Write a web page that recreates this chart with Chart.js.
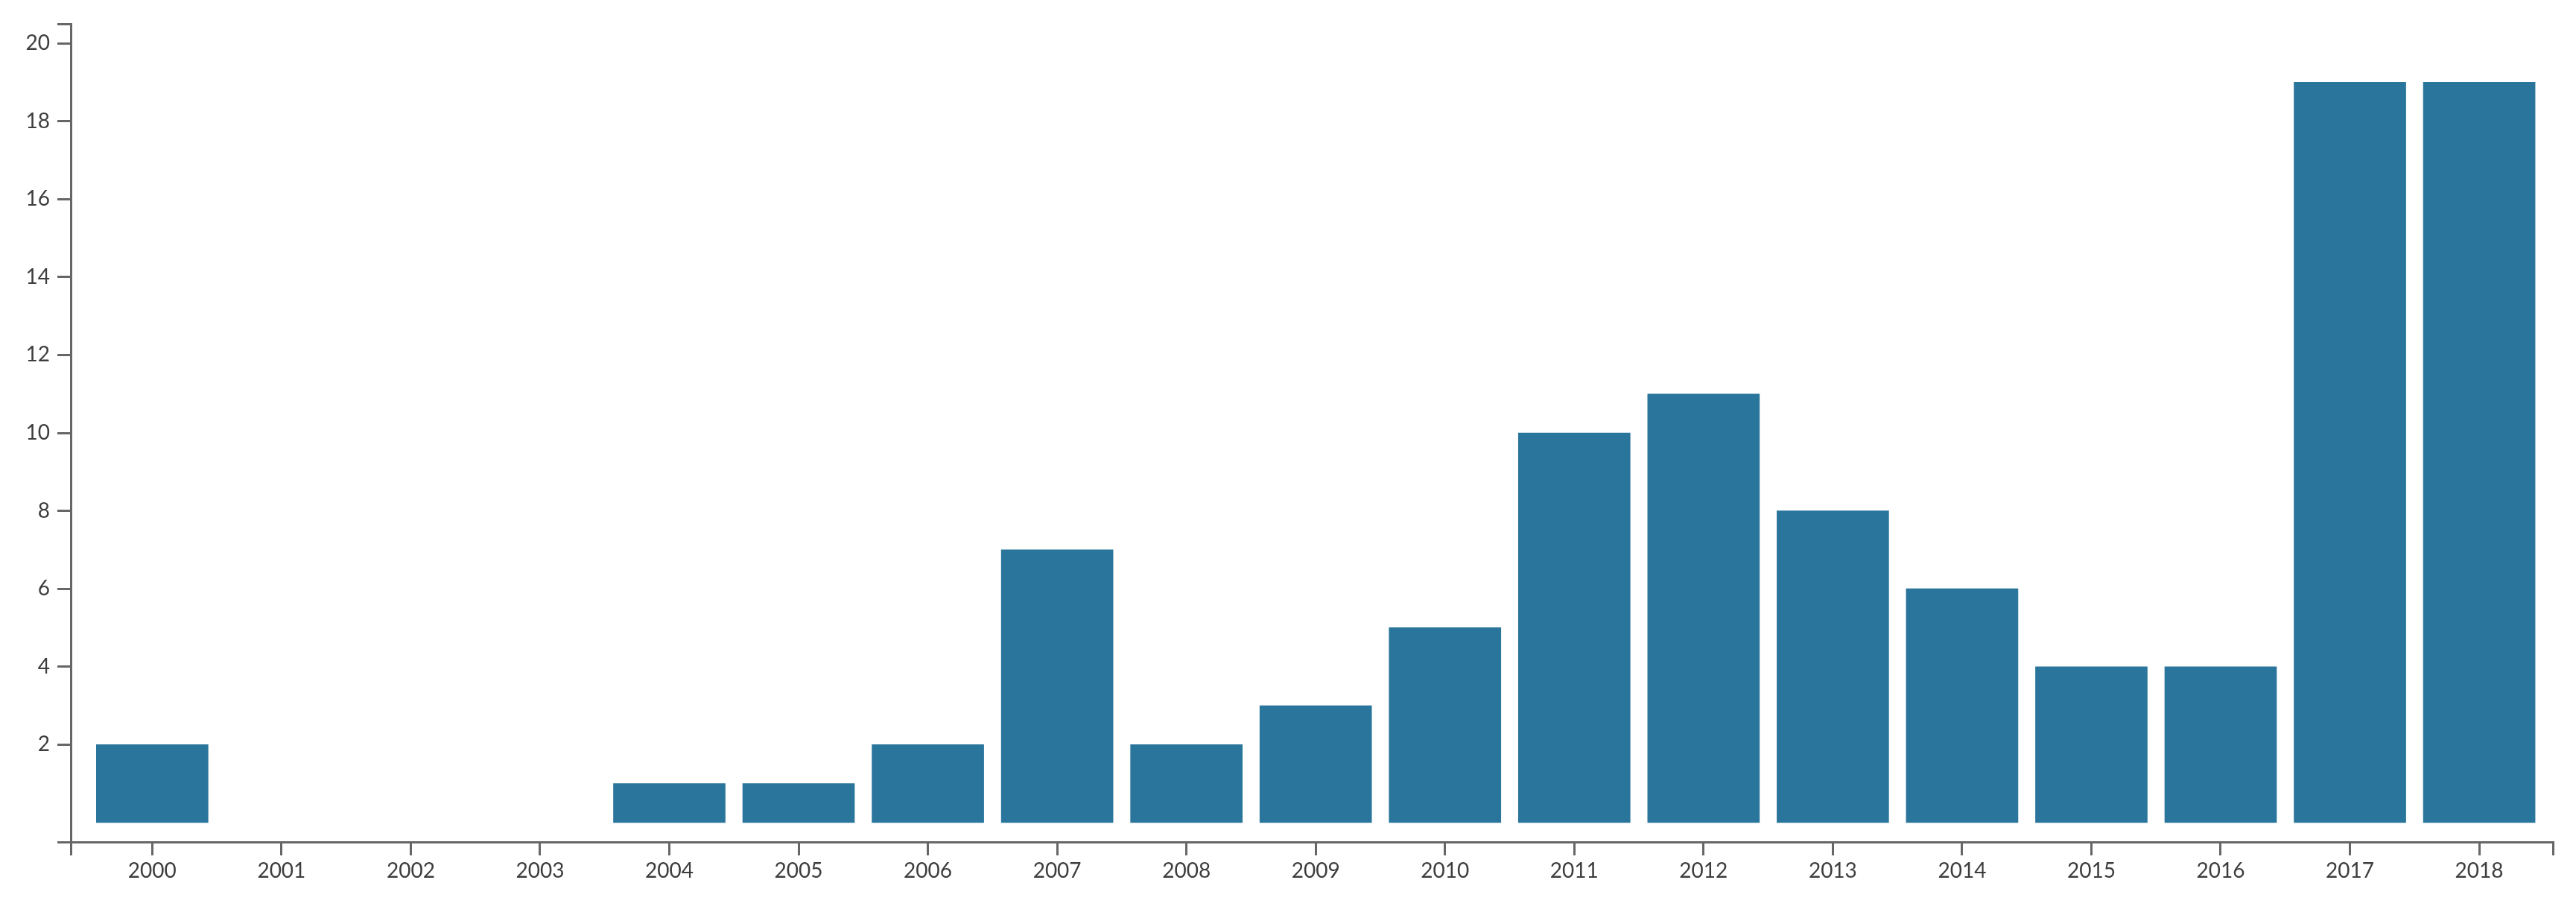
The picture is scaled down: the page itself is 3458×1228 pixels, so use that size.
<!DOCTYPE html>
<html>
  <head>
    <meta charset="UTF-8" />
    <script src="https://cdn.jsdelivr.net/npm/chart.js"></script>
    <style>
      body {
        margin: 0;
        background: #fff;
      }
    </style>
  </head>
  <body>
    <canvas id="chartBar" width="3458" height="1228"></canvas>
    <script>
      const years = [2000, 2001, 2002, 2003, 2004, 2005, 2006, 2007, 2008, 2009,
        2010, 2011, 2012, 2013, 2014, 2015, 2016, 2017, 2018];
      const counts = [2, 0, 0, 0, 1, 1, 2, 7, 2, 3, 5, 10, 11, 8, 6, 4, 4, 19, 19];
      const yTicks = [2, 4, 6, 8, 10, 12, 14, 16, 18, 20];

      const axisColor = "#666";
      const textColor = "#3d3d3d";
      const barColor = "#2a759b";
      const font = { family: "Lato", size: 28 };

      const xMin = 1999.37;
      const xMax = 2018.57;
      const yMin = -0.5;
      const yMax = 20.5;

      const chartData = {
        datasets: [
          {
            data: years.map((y, i) => ({ x: y, y: counts[i] })),
            // empty years get no visible sliver
            backgroundColor: (ctx) =>
              ctx.raw && ctx.raw.y === 0 ? "rgba(0,0,0,0)" : barColor,
            borderWidth: 0,
            barThickness: 150,
          },
        ],
      };

      const configBarChart = {
        type: "bar",
        data: chartData,
        options: {
          responsive: false,
          animation: false,
          layout: { padding: { top: 32, right: 31, left: 0, bottom: 0 } },
          plugins: { legend: { display: false }, tooltip: { enabled: false } },
          scales: {
            x: {
              type: "linear",
              offset: false,
              min: xMin,
              max: xMax,
              afterBuildTicks: (scale) => {
                // outer ticks at both ends, like the original axis
                scale.ticks = [xMin].concat(years, [xMax]).map((v) => ({ value: v }));
              },
              afterFit: (scale) => {
                scale.height = 98;
              },
              ticks: {
                color: textColor,
                font: font,
                padding: 4,
                maxRotation: 0,
                autoSkip: false,
                callback: (v) => (years.includes(v) ? String(v) : ""),
              },
              grid: {
                offset: false,
                drawOnChartArea: false,
                drawTicks: true,
                tickLength: 18,
                color: axisColor,
                lineWidth: 3,
              },
              border: { display: true, color: axisColor, width: 3 },
            },
            y: {
              min: yMin,
              max: yMax,
              afterBuildTicks: (scale) => {
                scale.ticks = [yMin].concat(yTicks, [yMax]).map((v) => ({ value: v }));
              },
              afterFit: (scale) => {
                scale.width = 95;
              },
              ticks: {
                color: textColor,
                font: font,
                padding: 10,
                callback: (v) => (yTicks.includes(v) ? String(v) : ""),
              },
              grid: {
                drawOnChartArea: false,
                drawTicks: true,
                tickLength: 18,
                color: axisColor,
                lineWidth: 3,
              },
              border: { display: true, color: axisColor, width: 3 },
            },
          },
        },
      };

      var chartBar = new Chart(document.getElementById("chartBar"), configBarChart);
    </script>
  </body>
</html>
